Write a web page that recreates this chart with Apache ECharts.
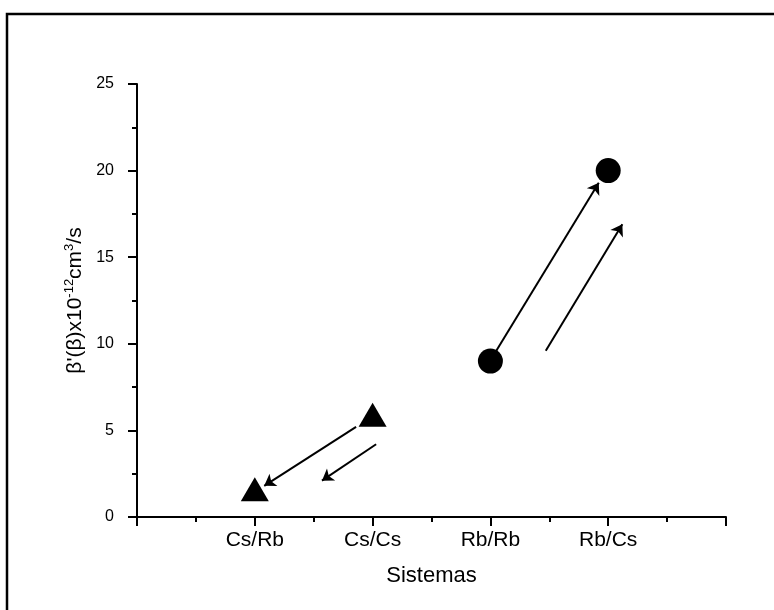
<!DOCTYPE html>
<html>
<head>
<meta charset="utf-8">
<script src="https://cdn.jsdelivr.net/npm/echarts@6/dist/echarts.min.js"></script>
<style>
  html, body { margin: 0; padding: 0; background: #fff; }
  #chart { width: 774px; height: 610px; }
</style>
</head>
<body>
<div id="chart"></div>
<script>
// sistemas (posicion 1..4 en el eje x)
const categories = ['Cs/Rb', 'Cs/Cs', 'Rb/Rb', 'Rb/Cs']
const triangleValues = [1.6, 5.9]   // Cs/Rb, Cs/Cs
const circleValues = [9.0, 20.0]    // Rb/Rb, Rb/Cs
const yTicks = [0, 5, 10, 15, 20, 25]

// flechas [x0, y0, x1, y1] en coordenadas de datos
const arrows = [
  [1.86, 5.2, 1.08, 1.8],
  [2.03, 4.2, 1.57, 2.1],
  [3.05, 9.6, 3.92, 19.3],
  [3.47, 9.6, 4.12, 16.9]
]

const chart = echarts.init(document.getElementById('chart'), null, { renderer: 'canvas' })

const font = '"Liberation Sans", Arial, sans-serif'

const option = {
  animation: false,
  backgroundColor: '#fff',
  grid: {
    left: 137,
    right: 48,
    top: 84,
    bottom: 93
  },
  graphic: [
    {
      type: 'polyline',
      shape: { points: [[7, 610], [7, 14], [774, 14]] },
      style: { stroke: '#000', lineWidth: 2.5, fill: null }
    }
  ],
  xAxis: {
    type: 'value',
    min: 0,
    max: 5,
    interval: 1,
    splitLine: { show: false },
    axisLine: { lineStyle: { color: '#000', width: 2 } },
    axisTick: { length: 9, lineStyle: { color: '#000', width: 2 } },
    minorTick: { show: true, splitNumber: 2, length: 5, lineStyle: { color: '#000', width: 2 } },
    axisLabel: {
      margin: 13,
      color: '#000',
      fontFamily: font,
      fontSize: 21,
      formatter: v => categories[v - 1] || ''
    },
    name: 'Sistemas',
    nameLocation: 'middle',
    nameGap: 48,
    nameTextStyle: { color: '#000', fontFamily: font, fontSize: 22 }
  },
  yAxis: {
    type: 'value',
    min: yTicks[0],
    max: yTicks[yTicks.length - 1],
    interval: 5,
    splitLine: { show: false },
    axisLine: { show: true, lineStyle: { color: '#000', width: 2 } },
    axisTick: { show: true, length: 9, lineStyle: { color: '#000', width: 2 } },
    minorTick: { show: true, splitNumber: 2, length: 5, lineStyle: { color: '#000', width: 2 } },
    axisLabel: { margin: 23, color: '#000', fontFamily: font, fontSize: 16 },
    name: "β'(β)x10{sup|-12}cm{sup|3}/s",
    nameLocation: 'middle',
    nameGap: 48,
    nameTextStyle: {
      color: '#000',
      fontFamily: font,
      fontSize: 21,
      rich: {
        sup: { fontSize: 13, fontFamily: font, color: '#000', verticalAlign: 'bottom', padding: [0, 0, 11, 0] }
      }
    }
  },
  series: [
    {
      type: 'lines',
      coordinateSystem: 'cartesian2d',
      symbol: ['none', 'arrow'],
      symbolSize: 11,
      z: 1,
      lineStyle: { color: '#000', width: 2, opacity: 1 },
      data: arrows.map(a => ({ coords: [[a[0], a[1]], [a[2], a[3]]] }))
    },
    {
      type: 'scatter',
      symbol: 'triangle',
      symbolSize: [28, 24],
      z: 3,
      itemStyle: { color: '#000', opacity: 1 },
      data: triangleValues.map((v, i) => [i + 1, v])
    },
    {
      type: 'scatter',
      symbol: 'circle',
      symbolSize: 25,
      z: 3,
      itemStyle: { color: '#000', opacity: 1 },
      data: circleValues.map((v, i) => [i + 3, v])
    }
  ]
}

chart.setOption(option)
</script>
</body>
</html>
